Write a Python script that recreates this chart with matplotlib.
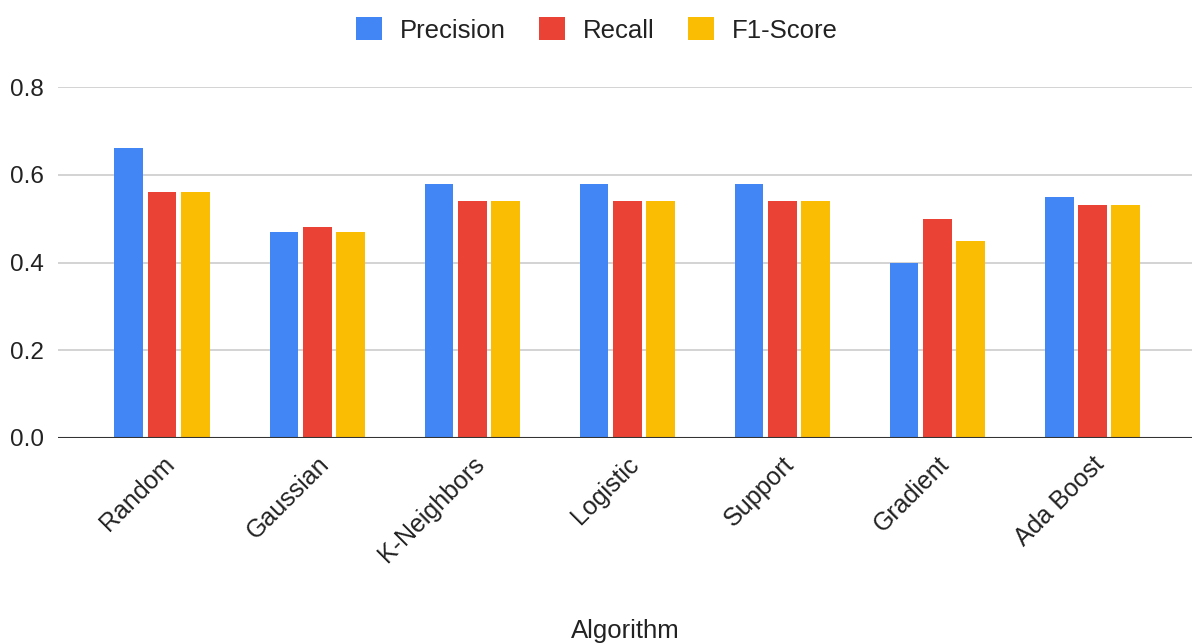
import numpy as np
import matplotlib
matplotlib.use("Agg")
import matplotlib.pyplot as plt
import matplotlib.transforms as mtransforms

plt.rcParams['font.family'] = ['Liberation Sans', 'DejaVu Sans']

algorithms = ["Random", "Gaussian", "K-Neighbors", "Logistic", "Support", "Gradient", "Ada Boost"]
precision = [0.66, 0.47, 0.58, 0.58, 0.58, 0.40, 0.55]
recall = [0.56, 0.48, 0.54, 0.54, 0.54, 0.50, 0.53]
f1_score = [0.56, 0.47, 0.54, 0.54, 0.54, 0.45, 0.53]

series = [("Precision", precision, "#4285F4"),
          ("Recall", recall, "#EA4335"),
          ("F1-Score", f1_score, "#FBBC04")]

fig = plt.figure(figsize=(11.92, 6.43), dpi=100)
ax = fig.add_axes([58 / 1192, 205 / 643, 1 - 58 / 1192, 351 / 643])

x = np.arange(len(algorithms))
width = 0.187
step = 0.213
for i, (name, vals, col) in enumerate(series):
    ax.bar(x + (i - 1) * step, vals, width, color=col, label=name, zorder=3)

ax.set_xlim(-0.671, 6.645)
ax.set_ylim(0, 0.8)
ax.set_yticks([0, 0.2, 0.4, 0.6, 0.8])
ax.set_yticklabels(["0.0", "0.2", "0.4", "0.6", "0.8"])
ax.yaxis.grid(True, color="#cccccc", lw=1.2, zorder=0)
ax.axhline(0, color="#333333", lw=1.5, zorder=4)

for s in ax.spines.values():
    s.set_visible(False)
ax.tick_params(axis="both", length=0, colors="#222222")
ax.tick_params(axis="y", pad=10, labelsize=17.5)

ax.set_xticks(x)
ax.set_xticklabels(algorithms, rotation=45, ha="right", rotation_mode="anchor")
offset = mtransforms.ScaledTranslation(16 / 100, 0, fig.dpi_scale_trans)
for lbl in ax.get_xticklabels():
    lbl.set_transform(lbl.get_transform() + offset)
ax.tick_params(axis="x", pad=10, labelsize=18)

fig.text(625 / 1192, 12 / 643, "Algorithm", ha="center", va="center", fontsize=18.5, color="#222222")

fig.legend(loc="center", bbox_to_anchor=(597 / 1192, 1 - 30 / 643), ncol=3, frameon=False,
           fontsize=18.5, handlelength=1.0, handleheight=1.0, handletextpad=0.7,
           columnspacing=1.3, labelcolor="#222222")

fig.savefig("out.png", dpi=100)
